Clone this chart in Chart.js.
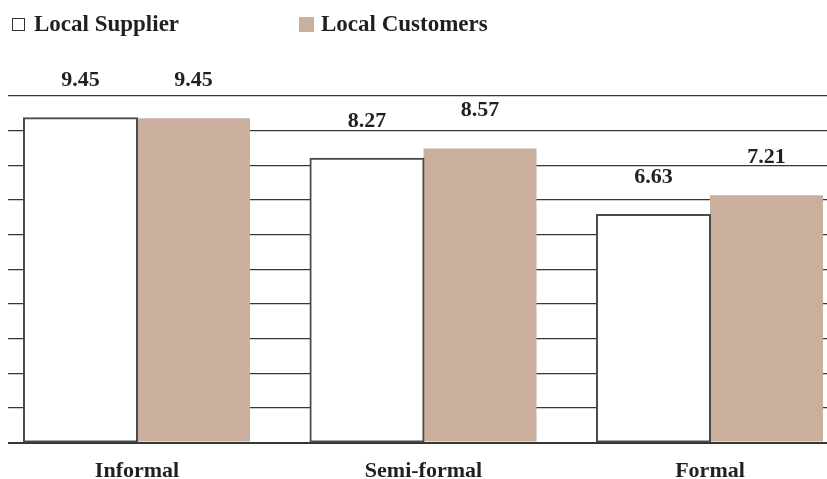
<!DOCTYPE html>
<html>
<head>
<meta charset="utf-8">
<script src="https://cdn.jsdelivr.net/npm/chart.js@4.4.1/dist/chart.umd.min.js"></script>
<style>
  html, body { margin: 0; padding: 0; background: #ffffff; overflow: hidden; }
  #wrap { width: 827px; height: 479px; position: relative; }
</style>
</head>
<body>
<div id="wrap"><canvas id="chart"></canvas></div>
<script>
// Categories and series values
const categories = ['Informal', 'Semi-formal', 'Formal'];
const seriesNames = ['Local Supplier', 'Local Customers'];
const supplierValues = [9.45, 8.27, 6.63];
const customerValues = [9.45, 8.57, 7.21];

// Value axis extent and number of horizontal rules
const axisMax = 10.1;
const ruleCount = 11;

const FONT = "'Liberation Serif', 'Times New Roman', serif";
const INK = '#231f20';
const RULE = '#363636';
const TAN = '#c9af9c';

// Bold value printed above every bar
const valueLabels = {
  id: 'valueLabels',
  afterDatasetsDraw(chart) {
    const ctx = chart.ctx;
    ctx.save();
    ctx.font = 'bold 22px ' + FONT;
    ctx.fillStyle = INK;
    ctx.textAlign = 'center';
    ctx.textBaseline = 'alphabetic';
    chart.data.datasets.forEach((ds, di) => {
      chart.getDatasetMeta(di).data.forEach((bar, i) => {
        ctx.fillText(ds.data[i].toFixed(2), bar.x, bar.y - 32);
      });
    });
    ctx.restore();
  }
};

// Key along the top edge
const topKey = {
  id: 'topKey',
  afterDraw(chart) {
    const ctx = chart.ctx;
    const starts = [12, 299];
    ctx.save();
    ctx.font = 'bold 23px ' + FONT;
    ctx.textBaseline = 'alphabetic';
    ctx.textAlign = 'left';
    chart.data.datasets.forEach((ds, i) => {
      const x = starts[i];
      if (ds.backgroundColor === '#ffffff') {
        ctx.fillStyle = '#ffffff';
        ctx.fillRect(x, 18, 13, 13);
        ctx.strokeStyle = '#333333';
        ctx.lineWidth = 1;
        ctx.strokeRect(x + 0.5, 18.5, 12, 12);
      } else {
        ctx.fillStyle = ds.backgroundColor;
        ctx.fillRect(x, 17, 15, 15);
      }
      ctx.fillStyle = INK;
      ctx.fillText(ds.label, x + 22, 31);
    });
    ctx.restore();
  }
};

new Chart(document.getElementById('chart'), {
  type: 'bar',
  data: {
    labels: categories,
    datasets: [
      {
        label: seriesNames[0],
        data: supplierValues,
        backgroundColor: '#ffffff',
        borderColor: '#4a4a4a',
        borderWidth: 2,
        borderSkipped: false,
        inflateAmount: 1
      },
      {
        label: seriesNames[1],
        data: customerValues,
        backgroundColor: TAN,
        borderWidth: 0,
        inflateAmount: 0
      }
    ]
  },
  options: {
    responsive: true,
    maintainAspectRatio: false,
    animation: false,
    events: [],
    datasets: { bar: { clip: false, categoryPercentage: 0.789, barPercentage: 1.0 } },
    layout: { padding: { top: 96, left: 8, right: 0, bottom: 0 } },
    plugins: { legend: { display: false }, tooltip: { enabled: false } },
    scales: {
      x: {
        type: 'category',
        offset: false,
        grid: { display: false, drawTicks: false },
        border: { display: false },
        ticks: {
          color: INK,
          font: { family: FONT, size: 22, weight: 'bold', lineHeight: 1.2 },
          padding: 16,
          maxRotation: 0,
          autoSkip: false
        },
        afterFit(scale) { scale.height = 36.5; }
      },
      y: {
        position: 'left',
        min: 0,
        max: axisMax,
        ticks: { display: false, count: ruleCount },
        border: { display: false },
        grid: {
          color: RULE,
          lineWidth: (c) => (c.tick && c.tick.value === 0 ? 2 : 1.3),
          drawTicks: true,
          tickLength: 129,
          tickColor: RULE
        },
        afterFit(scale) { scale.width = 129; }
      },
      yRight: {
        position: 'right',
        min: 0,
        max: axisMax,
        ticks: { display: false, count: ruleCount },
        border: { display: false },
        grid: {
          color: RULE,
          lineWidth: (c) => (c.tick && c.tick.value === 0 ? 2 : 1.3),
          drawOnChartArea: false,
          drawTicks: true,
          tickLength: 117,
          tickColor: RULE
        },
        afterFit(scale) { scale.width = 117; }
      }
    }
  },
  plugins: [valueLabels, topKey]
});
</script>
</body>
</html>
